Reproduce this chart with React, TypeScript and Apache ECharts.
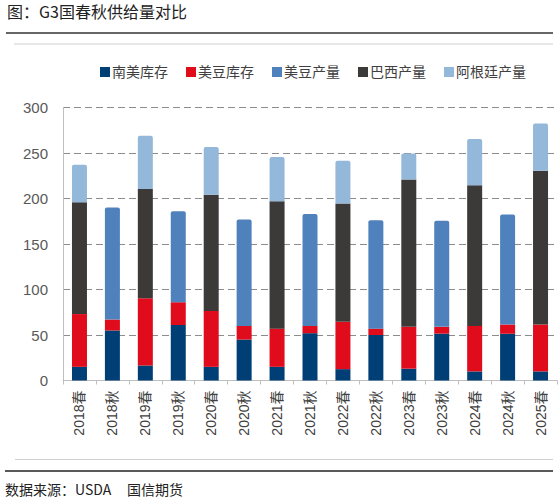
import React, { useEffect, useRef } from 'react';
import * as echarts from 'echarts';

const categories = [
  '2018春', '2018秋', '2019春', '2019秋', '2020春', '2020秋', '2021春', '2021秋',
  '2022春', '2022秋', '2023春', '2023秋', '2024春', '2024秋', '2025春',
];

const saStocks = [15, 55, 16.5, 61, 15, 45, 15, 52, 12.5, 50, 13, 51.5, 10, 51.5, 10];
const usStocks = [58, 12, 74, 25, 61.5, 15, 42, 8, 52, 7, 46, 7.5, 50, 10, 51.5];
const usProd = [0, 123, 0, 100, 0, 117, 0, 123, 0, 119, 0, 116.5, 0, 121, 0];
const brProd = [123, 0, 120, 0, 127.5, 0, 140, 0, 130, 0, 162, 0, 154.5, 0, 169];
const arProd = [41, 0, 58.5, 0, 52.5, 0, 48.5, 0, 47, 0, 28.5, 0, 51, 0, 52];

const yTicks = { min: 0, max: 300, interval: 50 };

const FONT = '"Liberation Sans", Arial, "Noto Sans CJK SC", sans-serif';
const CJK = '"Noto Sans CJK SC", sans-serif';

export default function App() {
  const chartRef = useRef<HTMLDivElement>(null);

  useEffect(() => {
    if (!chartRef.current) return;
    const chart = echarts.init(chartRef.current, undefined, { renderer: 'svg' });

    const bar = (name: string, data: number[], color: string, top = false) => ({
      name,
      type: 'bar',
      stack: 'total',
      barWidth: 15,
      data: data.map((v) => (v === 0 ? '-' : v)),
      itemStyle: { color, borderRadius: top ? [2, 2, 0, 0] : 0 },
    });

    const option = {
      animation: false,
      backgroundColor: '#fff',
      textStyle: { fontFamily: FONT },
      legend: {
        top: 60,
        left: 95,
        width: 460,
        itemWidth: 10,
        itemHeight: 10,
        itemGap: 18,
        icon: 'rect',
        textStyle: { fontSize: 14, color: '#404040', padding: [0, 0, 0, -3], fontFamily: FONT },
        data: ['南美库存', '美豆库存', '美豆产量', '巴西产量', '阿根廷产量'],
      },
      grid: { left: 63, right: 2, top: 107.5, bottom: 123.5 },
      xAxis: {
        type: 'category',
        data: categories,
        axisLine: { lineStyle: { color: '#bfbfbf' } },
        axisTick: { show: true, alignWithLabel: false, length: 4, lineStyle: { color: '#bfbfbf' } },
        axisLabel: { rotate: 90, fontSize: 14, color: '#404040', margin: 10, interval: 0, fontFamily: FONT },
      },
      yAxis: {
        type: 'value',
        min: yTicks.min,
        max: yTicks.max,
        interval: yTicks.interval,
        axisLine: { show: true, lineStyle: { color: '#bfbfbf' } },
        axisTick: { show: false },
        axisLabel: { fontSize: 15, color: '#595959', margin: 15, fontFamily: FONT },
        splitLine: { lineStyle: { color: '#8c8c8c', type: [7, 4], width: 1.2 } },
      },
      series: [
        bar('南美库存', saStocks, '#003f76'),
        bar('美豆库存', usStocks, '#e00b1b'),
        bar('美豆产量', usProd, '#4f81bd', true),
        bar('巴西产量', brProd, '#3c3939'),
        bar('阿根廷产量', arProd, '#94b8d9', true),
      ],
      graphic: [
        {
          type: 'text',
          left: 7,
          top: 3,
          style: { text: '图：G3国春秋供给量对比', fontSize: 16, fill: '#222', fontFamily: CJK },
        },
        { type: 'line', shape: { x1: 6, y1: 33, x2: 553, y2: 33 }, style: { stroke: '#333', lineWidth: 1.5 } },
        { type: 'line', shape: { x1: 14, y1: 44, x2: 553, y2: 44 }, style: { stroke: '#d0d0d0', lineWidth: 1 } },
        { type: 'line', shape: { x1: 15, y1: 459.5, x2: 553, y2: 459.5 }, style: { stroke: '#d0d0d0', lineWidth: 1 } },
        { type: 'line', shape: { x1: 5, y1: 471, x2: 553, y2: 471 }, style: { stroke: '#222', lineWidth: 1.5 } },
        {
          type: 'text',
          left: 5,
          top: 482,
          style: { text: '数据来源：USDA', fontSize: 14, fill: '#222', fontFamily: CJK },
        },
        {
          type: 'text',
          left: 127,
          top: 482,
          style: { text: '国信期货', fontSize: 14, fill: '#222', fontFamily: CJK },
        },
      ],
    };

    chart.setOption(option);
    return () => chart.dispose();
  }, []);

  return (
    <div
      ref={chartRef}
      style={{ position: 'fixed', left: 0, top: 0, width: '559px', height: '504px' }}
    />
  );
}
